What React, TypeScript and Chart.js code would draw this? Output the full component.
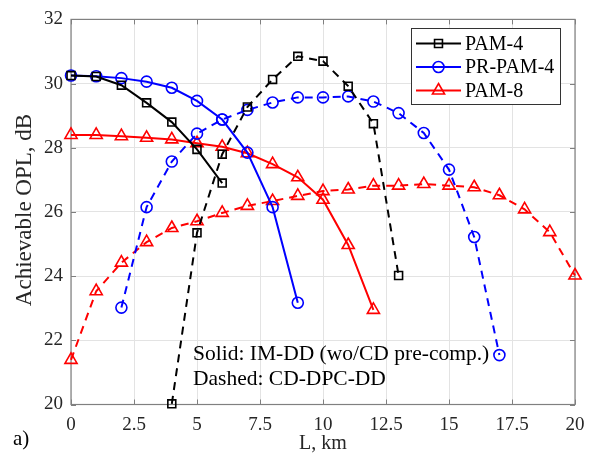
import React, { useEffect, useRef } from "react";
import { Chart, registerables } from "chart.js";

Chart.register(...registerables);

const FONT = '"Liberation Serif", "Times New Roman", Times, serif';

// Data (L in km, achievable OPL in dB)
const pam4SolidL = [0, 1, 2, 3, 4, 5, 6];
const pam4SolidOPL = [30.25, 30.22, 29.95, 29.4, 28.8, 27.95, 26.9];
const pam4DashedL = [4, 5, 6, 7, 8, 9, 10, 11, 12, 13];
const pam4DashedOPL = [20.02, 25.35, 27.8, 29.27, 30.13, 30.85, 30.7, 29.92, 28.75, 24.02];

const prSolidL = [0, 1, 2, 3, 4, 5, 6, 7, 8, 9];
const prSolidOPL = [30.25, 30.23, 30.17, 30.06, 29.87, 29.46, 28.88, 27.85, 26.15, 23.17];
const prDashedL = [2, 3, 4, 5, 6, 7, 8, 9, 10, 11, 12, 13, 14, 15, 16, 17];
const prDashedOPL = [23.02, 26.15, 27.57, 28.44, 28.88, 29.18, 29.41, 29.57, 29.57, 29.6, 29.44, 29.08, 28.46, 27.32, 25.22, 21.54];

const pam8SolidL = [0, 1, 2, 3, 4, 5, 6, 7, 8, 9, 10, 11, 12];
const pam8SolidOPL = [28.4, 28.4, 28.36, 28.31, 28.26, 28.14, 28.03, 27.83, 27.49, 27.08, 26.38, 24.97, 22.95];
const pam8DashedL = [0, 1, 2, 3, 4, 5, 6, 7, 8, 9, 10, 11, 12, 13, 14, 15, 16, 17, 18, 19, 20];
const pam8DashedOPL = [21.39, 23.53, 24.42, 25.06, 25.5, 25.71, 25.97, 26.19, 26.34, 26.5, 26.65, 26.7, 26.82, 26.82, 26.87, 26.82, 26.77, 26.52, 26.08, 25.37, 24.02];

const xTicks = [0, 2.5, 5, 7.5, 10, 12.5, 15, 17.5, 20];
const yTicks = [20, 22, 24, 26, 28, 30, 32];

const legendLabels = ["PAM-4", "PR-PAM-4", "PAM-8"];
const noteLines = ["Solid: IM-DD (wo/CD pre-comp.)", "Dashed: CD-DPC-DD"];
const xTitle = "L, km";
const yTitle = "Achievable OPL, dB";
const panelLabel = "a)";

const BLACK = "#000000";
const BLUE = "#0000ff";
const RED = "#ff0000";

const toPts = (xs: number[], ys: number[]) => xs.map((x, i) => ({ x, y: ys[i] }));

const PLOT = { left: 71, right: 575, top: 13.5, bottom: 404.5 };

function mk(label: string, xs: number[], ys: number[], color: string, dashed: boolean, style: any, radius: number) {
  return {
    label,
    data: toPts(xs, ys),
    borderColor: color,
    backgroundColor: "rgba(0,0,0,0)",
    borderWidth: 2,
    borderDash: dashed ? [8, 6] : [],
    pointStyle: style,
    pointRadius: radius,
    pointBorderWidth: 1.6,
    pointBorderColor: color,
    pointBackgroundColor: "rgba(0,0,0,0)",
    tension: 0,
    fill: false,
    clip: false,
  };
}

function marker(ctx: CanvasRenderingContext2D, style: string, r: number, x: number, y: number) {
  ctx.beginPath();
  if (style === "rect") {
    const s = Math.SQRT1_2 * r;
    ctx.rect(x - s, y - s, 2 * s, 2 * s);
  } else if (style === "circle") {
    ctx.arc(x, y, r, 0, Math.PI * 2);
  } else {
    let rad = 0;
    ctx.moveTo(x + Math.sin(rad) * r, y - Math.cos(rad) * r);
    rad += (2 * Math.PI) / 3;
    ctx.lineTo(x + Math.sin(rad) * r, y - Math.cos(rad) * r);
    rad += (2 * Math.PI) / 3;
    ctx.lineTo(x + Math.sin(rad) * r, y - Math.cos(rad) * r);
    ctx.closePath();
  }
  ctx.stroke();
}

const frame = {
  id: "frame",
  beforeDatasetsDraw(chart: any) {
    const ctx = chart.ctx as CanvasRenderingContext2D;
    const a = chart.chartArea;
    const xs = chart.scales.x;
    const ys = chart.scales.y;
    ctx.save();
    ctx.strokeStyle = "#7f7f7f";
    ctx.lineWidth = 1;
    ctx.beginPath();
    xTicks.forEach((t) => {
      const px = Math.round(xs.getPixelForValue(t)) + 0.5;
      ctx.moveTo(px, a.bottom);
      ctx.lineTo(px, a.bottom - 5);
      ctx.moveTo(px, a.top);
      ctx.lineTo(px, a.top + 5);
    });
    yTicks.forEach((t) => {
      const py = Math.round(ys.getPixelForValue(t)) + 0.5;
      ctx.moveTo(a.left, py);
      ctx.lineTo(a.left + 5, py);
      ctx.moveTo(a.right, py);
      ctx.lineTo(a.right - 5, py);
    });
    ctx.stroke();
    ctx.strokeStyle = "#808080";
    ctx.lineWidth = 1.2;
    ctx.strokeRect(a.left, a.top, a.right - a.left, a.bottom - a.top);
    ctx.restore();
  },
};

const overlay = {
  id: "overlay",
  afterDraw(chart: any) {
    const ctx = chart.ctx as CanvasRenderingContext2D;
    const a = chart.chartArea;
    ctx.save();

    // legend
    const lx = 411, ly = 28, lw = 149, lh = 76;
    ctx.fillStyle = "#ffffff";
    ctx.fillRect(lx, ly, lw, lh);
    ctx.strokeStyle = "#333333";
    ctx.lineWidth = 1;
    ctx.strokeRect(lx + 0.5, ly + 0.5, lw, lh);
    const entries = [0, 2, 4];
    entries.forEach((di, i) => {
      const ds = chart.data.datasets[di];
      const cy = 43.5 + i * 23.5;
      ctx.strokeStyle = ds.borderColor;
      ctx.lineWidth = 2;
      ctx.setLineDash([]);
      ctx.beginPath();
      ctx.moveTo(416, cy);
      ctx.lineTo(461, cy);
      ctx.stroke();
      ctx.lineWidth = 1.6;
      marker(ctx, ds.pointStyle, ds.pointRadius, 438.5, cy);
      ctx.fillStyle = "#000";
      ctx.font = `20px ${FONT}`;
      ctx.textAlign = "left";
      ctx.textBaseline = "middle";
      ctx.fillText(legendLabels[i], 465, cy + 1);
    });

    // annotation
    ctx.fillStyle = "#000";
    ctx.font = `21.5px ${FONT}`;
    ctx.textAlign = "left";
    ctx.textBaseline = "middle";
    ctx.fillText(noteLines[0], 193, 354);
    ctx.fillText(noteLines[1], 193, 379);

    // axis titles
    ctx.fillStyle = "#262626";
    ctx.font = `20px ${FONT}`;
    ctx.textAlign = "center";
    ctx.fillText(xTitle, (a.left + a.right) / 2, 444);
    ctx.fillStyle = "#000";
    ctx.font = `21px ${FONT}`;
    ctx.textAlign = "left";
    ctx.fillText(panelLabel, 13, 439);
    ctx.save();
    ctx.translate(25, 210);
    ctx.rotate(-Math.PI / 2);
    ctx.fillStyle = "#262626";
    ctx.font = `23px ${FONT}`;
    ctx.textAlign = "center";
    ctx.fillText(yTitle, 0, 0);
    ctx.restore();
    ctx.restore();
  },
};

export default function App() {
  const ref = useRef<HTMLCanvasElement>(null);
  useEffect(() => {
    document.body.style.margin = "0";
    const chart = new Chart(ref.current as HTMLCanvasElement, {
      type: "line",
      data: {
        datasets: [
          mk("PAM-4", pam4SolidL, pam4SolidOPL, BLACK, false, "rect", 5.6),
          mk("PAM-4 dashed", pam4DashedL, pam4DashedOPL, BLACK, true, "rect", 5.6),
          mk("PR-PAM-4", prSolidL, prSolidOPL, BLUE, false, "circle", 5.5),
          mk("PR-PAM-4 dashed", prDashedL, prDashedOPL, BLUE, true, "circle", 5.5),
          mk("PAM-8", pam8SolidL, pam8SolidOPL, RED, false, "triangle", 7),
          mk("PAM-8 dashed", pam8DashedL, pam8DashedOPL, RED, true, "triangle", 7),
        ] as any,
      },
      options: {
        responsive: false,
        animation: false,
        devicePixelRatio: 1,
        layout: { padding: { top: PLOT.top, right: 600 - PLOT.right, left: 0, bottom: 0 } },
        plugins: { legend: { display: false }, tooltip: { enabled: false } },
        scales: {
          x: {
            type: "linear",
            min: 0,
            max: 20,
            afterFit: (s: any) => { s.height = 466 - PLOT.bottom; },
            afterBuildTicks: (s: any) => { s.ticks = xTicks.map((v) => ({ value: v })); },
            ticks: {
              color: "#262626",
              font: { family: FONT, size: 19 },
              padding: 9,
              maxRotation: 0,
              autoSkip: false,
              callback: (v: any) => String(v),
            },
            grid: { color: "#e3e3e3", drawTicks: false, lineWidth: 1 },
            border: { display: false },
          },
          y: {
            type: "linear",
            min: 20,
            max: 32,
            afterFit: (s: any) => { s.width = PLOT.left; },
            afterBuildTicks: (s: any) => { s.ticks = yTicks.map((v) => ({ value: v })); },
            ticks: {
              color: "#262626",
              font: { family: FONT, size: 19 },
              padding: 8,
              autoSkip: false,
              callback: (v: any) => String(v),
            },
            grid: { color: "#e3e3e3", drawTicks: false, lineWidth: 1 },
            border: { display: false },
          },
        },
      } as any,
      plugins: [frame, overlay],
    });
    return () => chart.destroy();
  }, []);
  return (
    <div style={{ width: 600, height: 466 }}>
      <canvas ref={ref} width={600} height={466} style={{ display: "block" }} />
    </div>
  );
}
